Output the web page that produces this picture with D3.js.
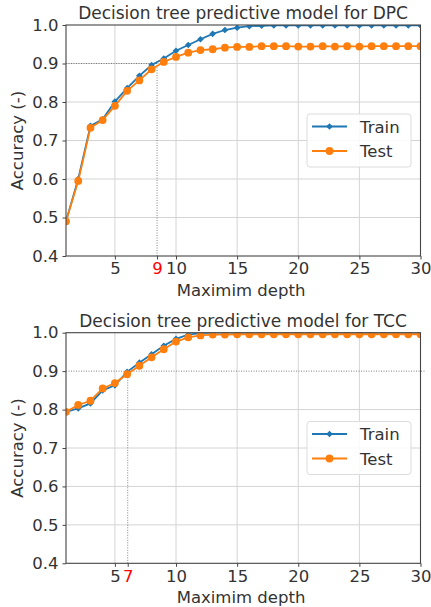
<!DOCTYPE html>
<html>
<head>
<meta charset="utf-8">
<script src="https://cdn.jsdelivr.net/npm/d3@7"></script>
<style>
  body { margin: 0; background: #fff; }
  text { font-family: "DejaVu Sans", sans-serif; }
</style>
</head>
<body>
<svg id="canvas" width="431" height="607"></svg>
<script>
// max depth of the tree
let depths = d3.range(1, 31);

let dpcTrain = [0.49, 0.60, 0.738, 0.755, 0.801, 0.836, 0.868, 0.896, 0.913, 0.933,
                0.948, 0.963, 0.977, 0.987, 0.993, 0.997, 0.998, 0.999, 0.999, 0.999,
                0.999, 0.999, 0.999, 0.999, 0.999, 0.999, 0.999, 0.999, 0.999, 0.999];
let dpcTest  = [0.49, 0.595, 0.733, 0.753, 0.790, 0.829, 0.856, 0.885, 0.904, 0.917,
                0.928, 0.935, 0.937, 0.941, 0.943, 0.943, 0.945, 0.945, 0.945, 0.944,
                0.944, 0.945, 0.944, 0.945, 0.944, 0.945, 0.945, 0.945, 0.945, 0.945];

let tccTrain = [0.794, 0.803, 0.816, 0.850, 0.863, 0.898, 0.922, 0.944, 0.966, 0.984,
                0.995, 0.999, 1.0, 1.0, 1.0, 1.0, 1.0, 1.0, 1.0, 1.0,
                1.0, 1.0, 1.0, 1.0, 1.0, 1.0, 1.0, 1.0, 1.0, 1.0];
let tccTest  = [0.794, 0.812, 0.823, 0.855, 0.869, 0.892, 0.914, 0.936, 0.957, 0.977,
                0.988, 0.993, 0.995, 0.995, 0.996, 0.996, 0.996, 0.996, 0.996, 0.996,
                0.996, 0.996, 0.996, 0.996, 0.996, 0.996, 0.996, 0.996, 0.996, 0.996];

let xTicks = [5, 10, 15, 20, 25, 30];
let yTicks = [0.4, 0.5, 0.6, 0.7, 0.8, 0.9, 1.0];
let seriesNames = ["Train", "Test"];

// depth where accuracy reaches 0.9 (red tick)
let dpcMarkAt = 8.45, dpcMarkLabel = "9";
let tccMarkAt = 6.05, tccMarkLabel = "7";
let threshold = 0.9;

let blue = "#1f77b4", orange = "#ff7f0e";
let ink = "#333";
let fs = "16.5px";

let canvas = d3.select("#canvas");

let styleTicks = (sel, col) => {
    sel.select(".domain").remove();
    sel.selectAll("line").attr("stroke", "#444");
    sel.selectAll("text").style("font-size", fs).style("font-family", "DejaVu Sans").style("fill", col);
};

let drawPanel = (cfg) => {
    let left = 66, right = 420.5;
    let x = d3.scaleLinear().domain([1, 30]).range([left, right]);
    let y = d3.scaleLinear().domain([0.4, 1.0]).range([cfg.bottom, cfg.top]);

    let g = canvas.append("g");
    let clipId = "clip" + cfg.id;
    g.append("clipPath").attr("id", clipId)
     .append("rect")
     .attr("x", left).attr("y", cfg.top)
     .attr("width", right - left).attr("height", cfg.bottom - cfg.top);

    // grid
    g.selectAll(".gx").data(xTicks.slice(0, -1)).enter().append("line")
     .attr("x1", d => x(d)).attr("x2", d => x(d))
     .attr("y1", cfg.top).attr("y2", cfg.bottom)
     .attr("stroke", "#d4d4d4").attr("stroke-width", 1);
    g.selectAll(".gy").data(yTicks.slice(1, -1).filter(v => !(cfg.fullLine && v === threshold))).enter().append("line")
     .attr("x1", left).attr("x2", right)
     .attr("y1", d => y(d)).attr("y2", d => y(d))
     .attr("stroke", "#d4d4d4").attr("stroke-width", 1);

    // dotted reference lines
    g.append("line")
     .attr("x1", x(1)).attr("x2", cfg.fullLine ? x(30) + 4 : x(cfg.markAt))
     .attr("y1", y(threshold)).attr("y2", y(threshold))
     .attr("stroke", "#666").attr("stroke-width", 0.8).attr("stroke-dasharray", "1,1.5");
    g.append("line")
     .attr("x1", x(cfg.markAt)).attr("x2", x(cfg.markAt))
     .attr("y1", y(0.4)).attr("y2", y(threshold))
     .attr("stroke", "#666").attr("stroke-width", 0.8).attr("stroke-dasharray", "1,1.5");

    // series
    let line = d3.line().x((d, i) => x(depths[i])).y(d => y(d));
    let plot = g.append("g").attr("clip-path", "url(#" + clipId + ")");
    let diamond = d3.symbol().type(d3.symbolSquare).size(22);

    plot.append("path").datum(cfg.train)
        .attr("d", line).attr("fill", "none").attr("stroke", blue).attr("stroke-width", 1.8);
    plot.selectAll(".tr").data(cfg.train).enter().append("path")
        .attr("d", diamond)
        .attr("transform", (d, i) => "translate(" + x(depths[i]) + "," + y(d) + ") rotate(45)")
        .attr("fill", blue);
    plot.append("path").datum(cfg.test)
        .attr("d", line).attr("fill", "none").attr("stroke", orange).attr("stroke-width", 1.8);
    plot.selectAll(".te").data(cfg.test).enter().append("circle")
        .attr("cx", (d, i) => x(depths[i])).attr("cy", d => y(d))
        .attr("r", 3.9).attr("fill", orange);

    // axes frame
    g.append("rect")
     .attr("x", left).attr("y", cfg.top)
     .attr("width", right - left).attr("height", cfg.bottom - cfg.top)
     .attr("fill", "none").attr("stroke", "#444").attr("stroke-width", 1.1);

    // x ticks
    let xg = g.append("g").attr("transform", "translate(0," + cfg.bottom + ")")
      .call(d3.axisBottom(x).tickValues(xTicks).tickSize(3.5).tickPadding(3).tickFormat(d3.format("d")));
    styleTicks(xg, ink);

    let mg = g.append("g").attr("transform", "translate(0," + cfg.bottom + ")")
      .call(d3.axisBottom(x).tickValues([cfg.markAt]).tickSize(3.5).tickPadding(3).tickFormat(() => cfg.markLabel));
    styleTicks(mg, "#ff0000");

    // y ticks
    let yg = g.append("g").attr("transform", "translate(" + left + ",0)")
      .call(d3.axisLeft(y).tickValues(yTicks).tickSize(3.5).tickPadding(4).tickFormat(d3.format(".1f")));
    styleTicks(yg, ink);

    // labels
    g.append("text").attr("x", 243).attr("y", cfg.top - 6)
     .attr("text-anchor", "middle").style("font-size", "17px").style("fill", ink).text(cfg.title);
    g.append("text").attr("x", 241).attr("y", cfg.bottom + 40)
     .attr("text-anchor", "middle").style("font-size", fs).style("fill", ink).text("Maximim depth");
    g.append("text")
     .attr("transform", "translate(23," + ((cfg.top + cfg.bottom) / 2) + ") rotate(-90)")
     .attr("text-anchor", "middle").style("font-size", fs).style("fill", ink).text("Accuracy (-)");

    // legend
    let lg = g.append("g").attr("transform", "translate(307," + cfg.legendTop + ")");
    lg.append("rect").attr("width", 104).attr("height", 53).attr("rx", 3)
      .attr("fill", "#fff").attr("fill-opacity", 0.85).attr("stroke", "#dcdcdc");
    seriesNames.forEach((name, i) => {
        let cy = 12.5 + i * 24.5;
        let col = i === 0 ? blue : orange;
        lg.append("line").attr("x1", 5).attr("x2", 40).attr("y1", cy).attr("y2", cy)
          .attr("stroke", col).attr("stroke-width", 1.8);
        if (i === 0) {
            lg.append("path").attr("d", diamond)
              .attr("transform", "translate(22.5," + cy + ") rotate(45)").attr("fill", col);
        } else {
            lg.append("circle").attr("cx", 22.5).attr("cy", cy).attr("r", 3.9).attr("fill", col);
        }
        lg.append("text").attr("x", 53).attr("y", cy + 6).style("font-size", fs).style("fill", ink).text(name);
    });
};

drawPanel({id: 1, top: 25, bottom: 256, title: "Decision tree predictive model for DPC",
           train: dpcTrain, test: dpcTest, markAt: dpcMarkAt, markLabel: dpcMarkLabel,
           fullLine: false, legendTop: 114});
drawPanel({id: 2, top: 332.7, bottom: 563.3, title: "Decision tree predictive model for TCC",
           train: tccTrain, test: tccTest, markAt: tccMarkAt, markLabel: tccMarkLabel,
           fullLine: true, legendTop: 421.5});
</script>
</body>
</html>
